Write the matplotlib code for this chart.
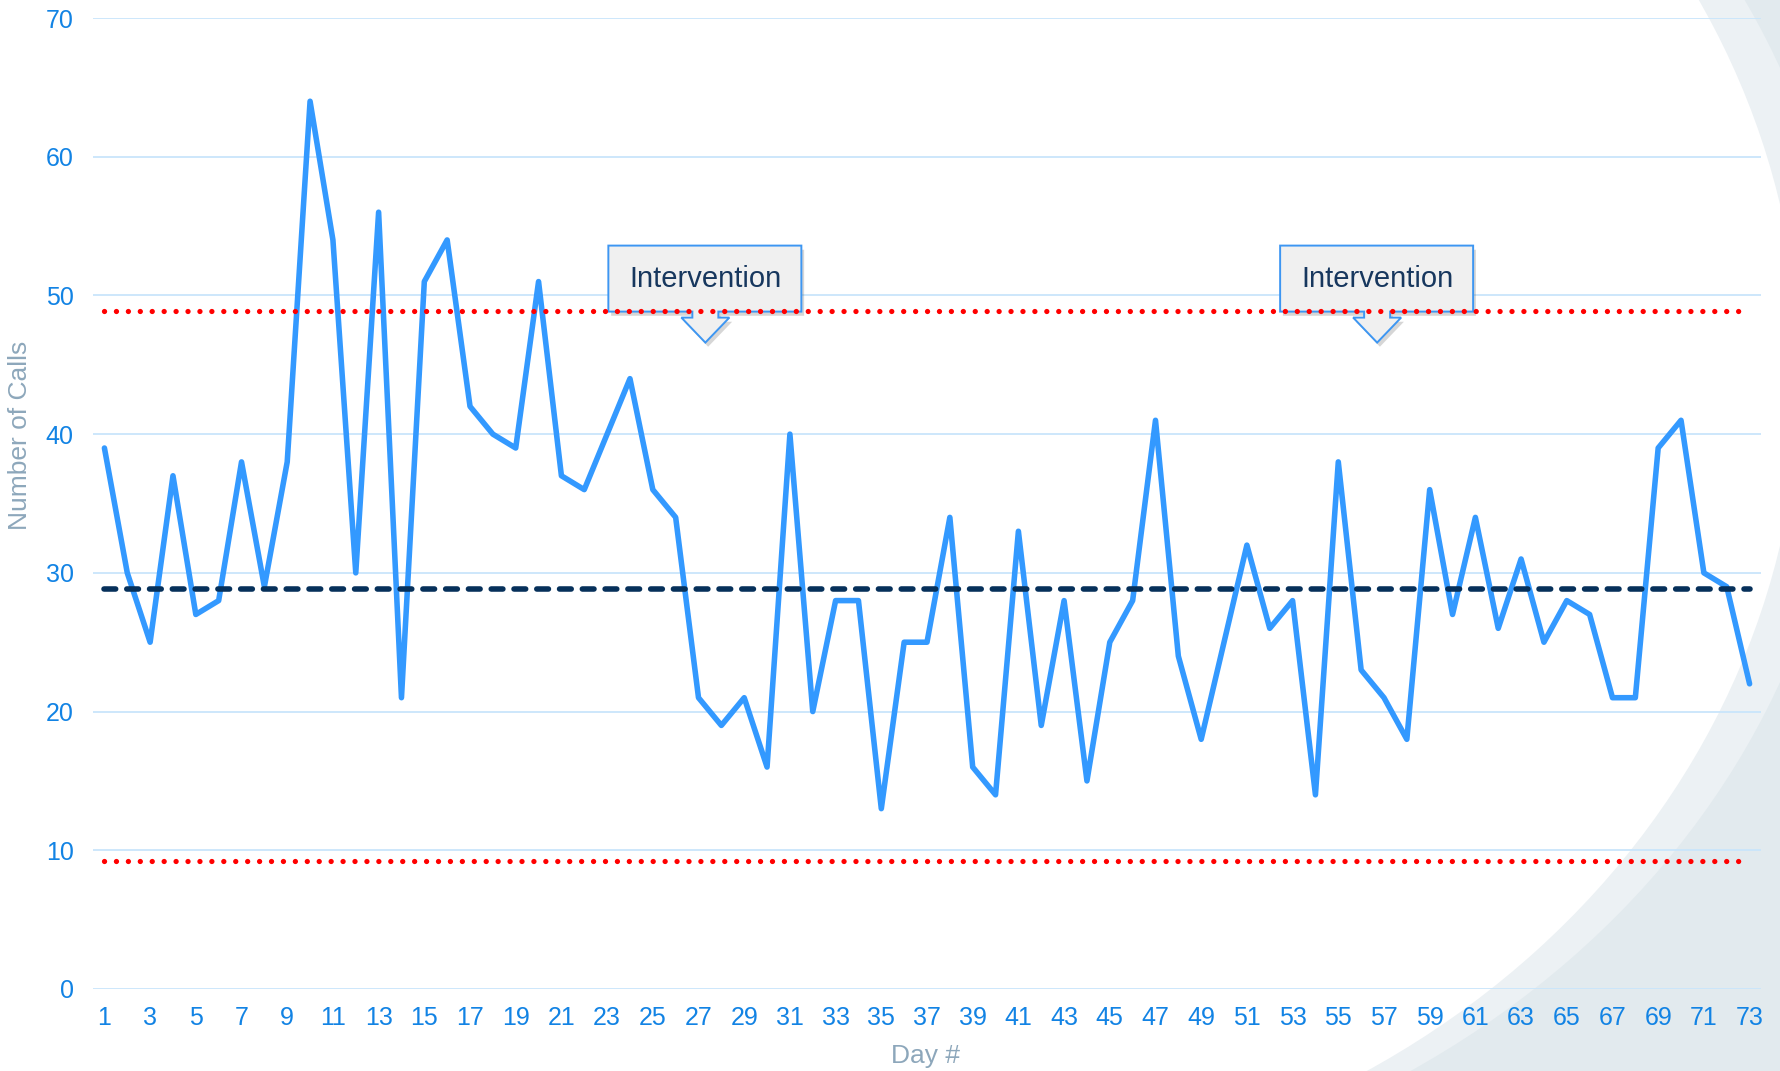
import numpy as np
import matplotlib
matplotlib.use('Agg')
import matplotlib.pyplot as plt
import matplotlib.patheffects as pe
from matplotlib.patches import Ellipse, Rectangle, Polygon
from matplotlib.transforms import IdentityTransform

plt.rcParams['font.family'] = ['Liberation Sans', 'DejaVu Sans']

# data
days = np.arange(1, 74)
calls = [39, 30, 25, 37, 27, 28, 38, 29, 38, 64,
         54, 30, 56, 21, 51, 54, 42, 40, 39, 51,
         37, 36, 40, 44, 36, 34, 21, 19, 21, 16,
         40, 20, 28, 28, 13, 25, 25, 34, 16, 14,
         33, 19, 28, 15, 25, 28, 41, 24, 18, 25,
         32, 26, 28, 14, 38, 23, 21, 18, 36, 27,
         34, 26, 31, 25, 28, 27, 21, 21, 39, 41,
         30, 29, 22]
mean_line = 28.85
upper_limit = 48.9
lower_limit = 9.2
y_ticks = [0, 10, 20, 30, 40, 50, 60, 70]
x_ticks = days[::2]
intervention_days = [27.3, 56.7]
intervention_level = 46.6
intervention_label = 'Intervention'

W, H = 1781, 1071
fig = plt.figure(figsize=(W / 100, H / 100), dpi=100)
fig.patch.set_facecolor('#E2EAEE')

# background decoration (big curved bands at the right)
idt = IdentityTransform()
fig.patches.append(Ellipse((900, H - 375), 2 * 948, 2 * 826, transform=idt,
                           facecolor='#ECF1F4', edgecolor='none', zorder=-10))
fig.patches.append(Ellipse((900, H - 375), 2 * 900, 2 * 814, transform=idt,
                           facecolor='white', edgecolor='none', zorder=-9))
fig.patches.append(Rectangle((0, 0), 900, H, transform=idt,
                             facecolor='white', edgecolor='none', zorder=-9))

ax = fig.add_axes([93 / W, (H - 989) / H, 1668 / W, 971 / H])
ax.set_facecolor('none')

ax.plot(days, calls, color='#3399FF', lw=4.0, solid_joinstyle='round',
        solid_capstyle='round', zorder=4)

n = len(days)
ax.plot(days, [mean_line] * n, color='#06305A', lw=4.0,
        dash_capstyle='round', dashes=(2.1, 2.0), zorder=5)
for lim in (upper_limit, lower_limit):
    ax.plot(days, [lim] * n, color='#FF0000', lw=3.8,
            dash_capstyle='round', dashes=(0.01, 2.25), zorder=5)

ax.set_xlim(0.5, 73.5)
ax.set_ylim(0, 70)
ax.set_autoscale_on(False)
ax.set_yticks(y_ticks)
ax.set_xticks(x_ticks)
ax.set_xticklabels([str(d) for d in x_ticks])

ax.set_axisbelow(True)
ax.yaxis.grid(True, color='#C9E5FB', lw=1.3)
ax.xaxis.grid(False)
for s in ax.spines.values():
    s.set_visible(False)
ax.tick_params(axis='both', length=0, labelsize=18, labelcolor='#1283E4')
ax.tick_params(axis='y', pad=14)
ax.tick_params(axis='x', pad=12)

ax.set_ylabel('Number of Calls', fontsize=19, color='#8DA7BB', va='center')
ax.yaxis.set_label_coords(-0.044, 0.57)
ax.set_xlabel('Day #', fontsize=19, color='#8DA7BB', va='center')
ax.xaxis.set_label_coords(0.499, -0.069)


def callout(x, y):
    tx, ty = ax.transData.transform((x, y))
    shape = [(-97, 97), (96, 97), (96, 31), (13, 31), (13, 25), (24, 25),
             (0, 0), (-24, 25), (-13, 25), (-13, 31), (-97, 31)]
    pts = [(tx + dx, ty + dy) for dx, dy in shape]
    poly = Polygon(pts, closed=True, transform=idt, facecolor='#F0F0F0',
                   edgecolor='#3D96F2', lw=1.4, zorder=3, clip_on=False,
                   path_effects=[pe.SimplePatchShadow(offset=(2, -3), alpha=0.22),
                                 pe.Normal()])
    ax.add_patch(poly)
    ax.text(tx, ty + 64, intervention_label, transform=idt, ha='center',
            va='center', fontsize=21, color='#17375E', zorder=6)


for d in intervention_days:
    callout(d, intervention_level)

fig.savefig('out.png', dpi=100, facecolor=fig.get_facecolor())
